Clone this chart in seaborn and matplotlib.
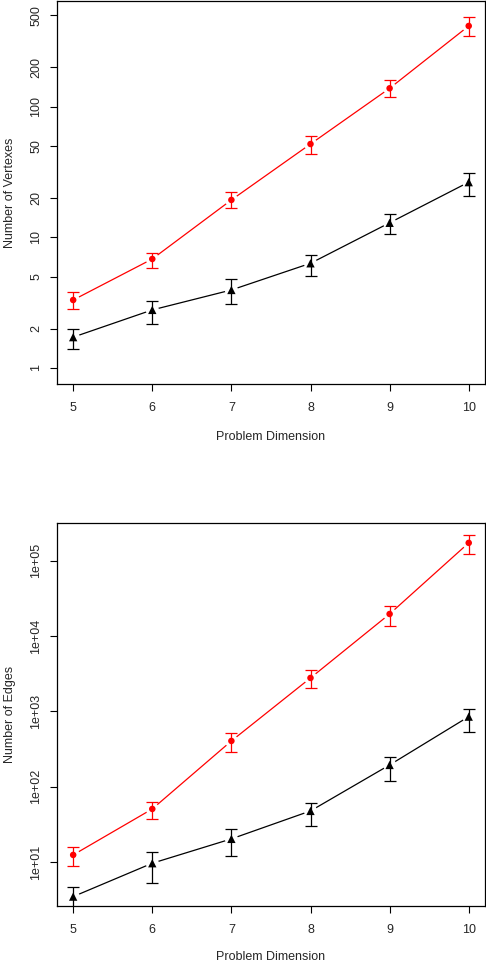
import numpy as np
import pandas as pd
import matplotlib
matplotlib.use("Agg")
import matplotlib.pyplot as plt
import seaborn as sns

# problem dimensions on the x axis
dims = [5, 6, 7, 8, 9, 10]

# number of vertexes (log scale), red series
vert_red = [3.31, 6.82, 19.3, 51.7, 138, 414]
vert_red_lo = [2.83, 5.85, 16.7, 43.4, 119, 347]
vert_red_hi = [3.80, 7.62, 22.1, 59.3, 160, 485]

# number of vertexes, black series
vert_blk = [1.72, 2.78, 3.95, 6.32, 12.9, 26.4]
vert_blk_lo = [1.39, 2.18, 3.09, 5.08, 10.6, 20.8]
vert_blk_hi = [1.99, 3.27, 4.78, 7.32, 15.0, 31.2]

# number of edges, red series
edge_red = [12.5, 50.9, 406, 2780, 19600, 172000]
edge_red_lo = [9.0, 37.5, 293, 2050, 13600, 123000]
edge_red_hi = [16.1, 63.6, 514, 3580, 25100, 217000]

# number of edges, black series
edge_blk = [3.5, 9.7, 20.4, 47.9, 195, 853]
edge_blk_lo = [2.3, 5.36, 12.2, 30.3, 121, 535]
edge_blk_hi = [4.66, 13.6, 27.6, 61.8, 252, 1090]

vert_ticks = [1, 2, 5, 10, 20, 50, 100, 200, 500]
vert_tick_labels = ["1", "2", "5", "10", "20", "50", "100", "200", "500"]
edge_ticks = [1e1, 1e2, 1e3, 1e4, 1e5]
edge_tick_labels = ["1e+01", "1e+02", "1e+03", "1e+04", "1e+05"]

sns.set_style("white")
plt.rcParams["font.family"] = ["Liberation Sans", "DejaVu Sans"]
plt.rcParams["font.size"] = 9


def draw_series(ax, y, lo, hi, color, marker, msize):
    df = pd.DataFrame({"dim": dims, "val": y})
    sns.lineplot(data=df, x="dim", y="val", ax=ax, color=color, lw=0.9, zorder=1)
    # white disc under each point to leave the small gap around the marker
    sns.scatterplot(data=df, x="dim", y="val", ax=ax, color="white", s=90,
                    marker="o", edgecolor="none", zorder=2)
    yerr = [np.array(y) - np.array(lo), np.array(hi) - np.array(y)]
    ax.errorbar(dims, y, yerr=yerr, fmt="none", ecolor=color, elinewidth=0.9,
                capsize=4, capthick=0.9, zorder=3)
    sns.scatterplot(data=df, x="dim", y="val", ax=ax, color=color, s=msize,
                    marker=marker, edgecolor="none", zorder=4)


fig = plt.figure(figsize=(4.86, 9.64), dpi=100)
ax1 = fig.add_axes([0.118, 0.6017, 0.879, 0.3973])
ax2 = fig.add_axes([0.118, 0.0602, 0.879, 0.397])

draw_series(ax1, vert_red, vert_red_lo, vert_red_hi, "#ff0000", "o", 22)
draw_series(ax1, vert_blk, vert_blk_lo, vert_blk_hi, "black", "^", 36)
draw_series(ax2, edge_red, edge_red_lo, edge_red_hi, "#ff0000", "o", 22)
draw_series(ax2, edge_blk, edge_blk_lo, edge_blk_hi, "black", "^", 36)

for ax, ticks, labels, ylim, ylab, xl_y in [
    (ax1, vert_ticks, vert_tick_labels, (0.754, 643), "Number of Vertexes", -0.1376),
    (ax2, edge_ticks, edge_tick_labels, (2.63, 313000), "Number of Edges", -0.1325),
]:
    ax.set_yscale("log")
    ax.set_ylim(*ylim)
    ax.set_xlim(4.8, 10.2)
    ax.set_xticks(dims)
    ax.set_xticklabels([str(d) for d in dims])
    ax.set_yticks(ticks)
    ax.set_yticklabels(labels)
    ax.yaxis.set_minor_locator(matplotlib.ticker.NullLocator())
    ax.tick_params(axis="both", which="major", direction="out", length=5,
                   width=0.8, color="black", labelsize=9, left=True, bottom=True)
    ax.tick_params(axis="x", pad=8)
    ax.tick_params(axis="y", pad=6, labelrotation=90)
    for lab in ax.get_yticklabels():
        lab.set_va("center")
    for sp in ax.spines.values():
        sp.set_visible(True)
        sp.set_color("black")
        sp.set_linewidth(0.9)
    ax.set_xlabel("Problem Dimension", fontsize=9)
    ax.set_ylabel(ylab, fontsize=9)
    ax.xaxis.set_label_coords(0.5, xl_y)
    ax.xaxis.label.set_va("center")
    ax.yaxis.set_label_coords(-0.112, 0.5)
    ax.yaxis.label.set_va("center")

fig.savefig("out.png", dpi=100)
